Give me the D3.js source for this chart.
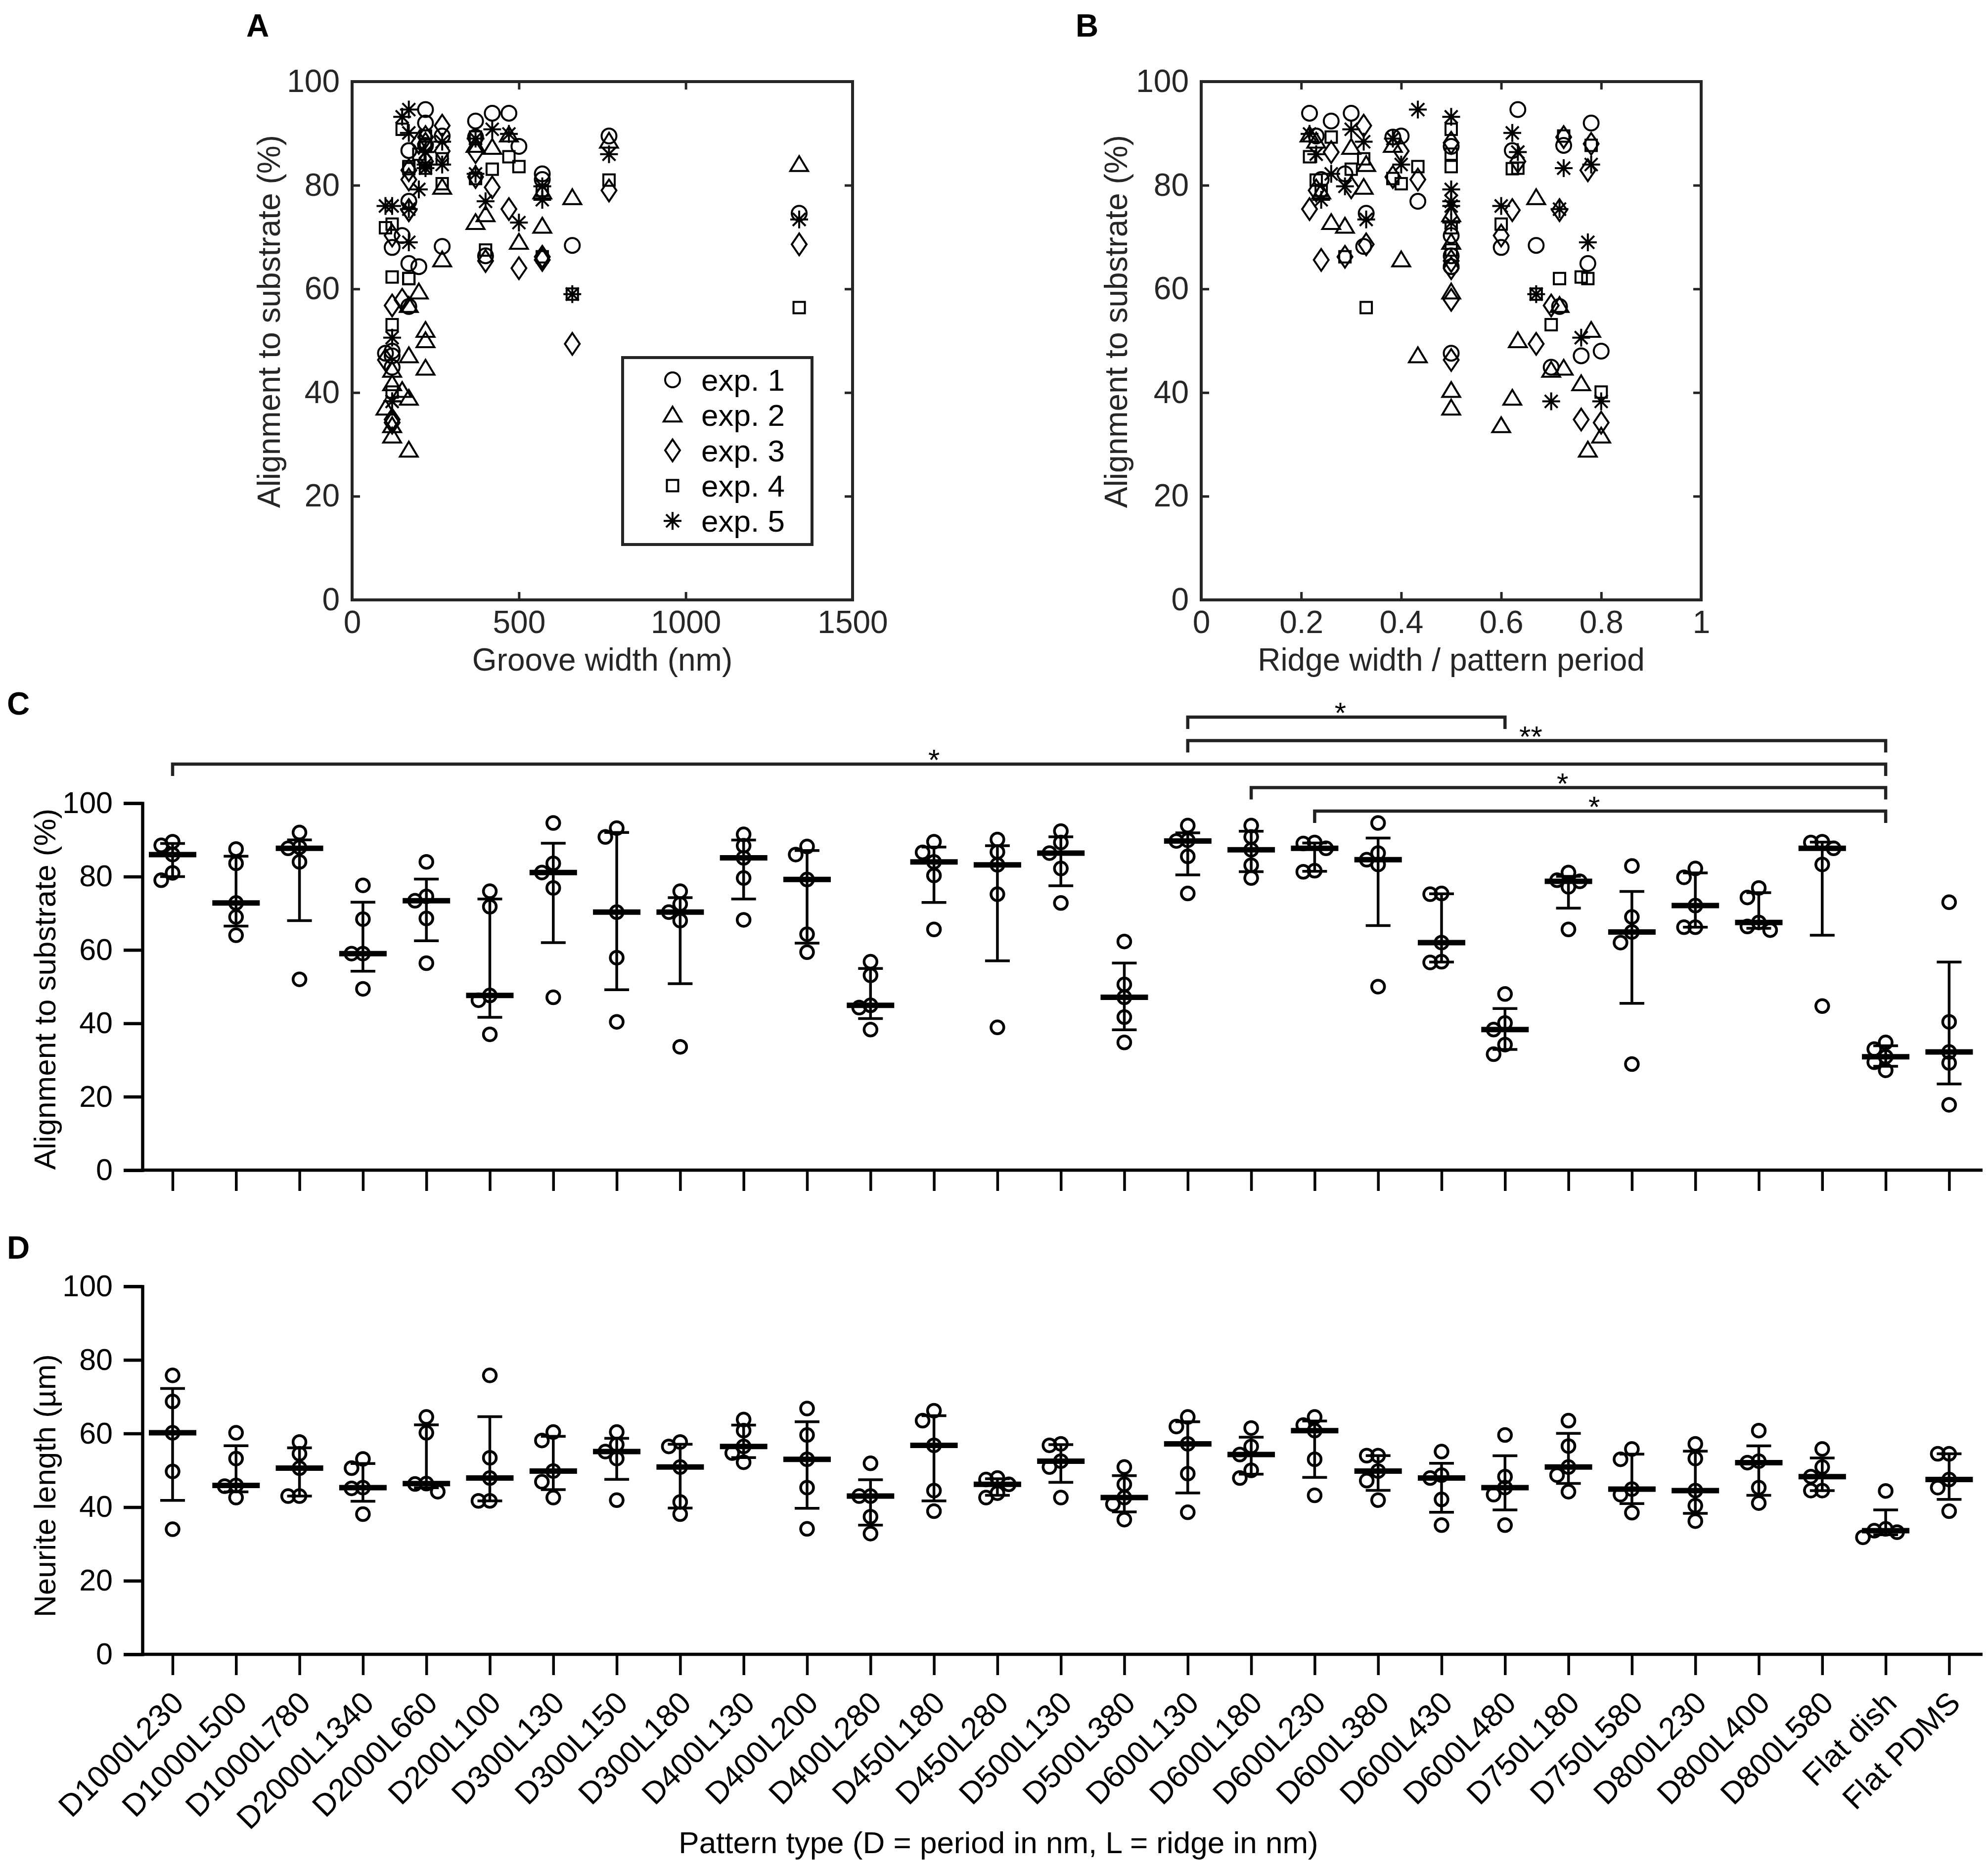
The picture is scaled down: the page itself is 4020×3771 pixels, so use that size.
<!DOCTYPE html>
<html>
<head>
<meta charset="utf-8">
<script src="https://cdn.jsdelivr.net/npm/d3@7"></script>
<style>
body { margin: 0; background: #fff; }
text { font-family: "Liberation Sans", Arial, Helvetica, sans-serif; }
</style>
</head>
<body>
<svg id="fig" width="4020" height="3771"></svg>
<script>
// pattern names: D = period (nm), L = ridge (nm)
const patterns = ["D1000L230","D1000L500","D1000L780","D2000L1340","D2000L660","D200L100","D300L130",
  "D300L150","D300L180","D400L130","D400L200","D400L280","D450L180","D450L280","D500L130","D500L380",
  "D600L130","D600L180","D600L230","D600L380","D600L430","D600L480","D750L180","D750L580","D800L230",
  "D800L400","D800L580","Flat dish","Flat PDMS"];

// alignment to substrate (%), one array per experiment
const alignExp1 = [89.5,87.5,92,68.4,74.6,47.6,76.9,70.3,68,68.2,64.3,44.9,89.5,86.7,92.4,47.1,93.9,93.9,89.3,94.6,56.6,48,81.1,64.9,82.2,66.4,87.7,34.8,73];
const alignExp2 = [88.5,69,52,77.6,84,37,47.1,40.4,33.6,79.6,59.4,44.3,65.6,38.9,72.8,41.7,89.7,87.3,87.7,50,56.8,31.6,78.7,28.9,72.1,74.3,44.7,33,40.4];
const alignExp3 = [79,64,88,49.4,68.6,46.3,81.1,57.9,70.3,91.5,88.2,56.8,86.6,75.2,86.4,34.8,75.4,79.6,81.6,84.6,75.2,34.2,65.6,82.9,66.2,65.4,89.3,30.9,32.2];
const alignExp4 = [81,83.6,87.7,59,56.4,71.8,83.6,90.8,72.5,85.1,86,53.1,80.3,83.2,89.3,62.3,85.5,83.1,81.3,83.3,62,40.1,79,62,66.2,67.5,89.5,29.4,29.2];
const alignExp5 = [86,72.8,84,59,73.4,76,94.6,93.2,76,88.4,79.2,38.3,84,90.1,82.2,50.6,89.9,90.8,89,86.4,75.4,38.3,77.2,69,79.8,76.9,83.3,27.2,17.8];

// neurite length (µm), five replicates per pattern
const neurite1 = [75.8,60.2,57.7,53.1,64.5,75.8,60.4,60.4,57.7,63.8,66.8,51.9,66.2,47.9,57.2,50.9,64.5,61.5,64.5,54,55.1,59.6,63.5,55.8,57.2,60.8,55.8,44.4,54.5];
const neurite2 = [68.7,53.2,54.5,50.6,60.2,53.4,58.1,57,56.5,60.8,59.6,43,63.5,47.5,56.8,46.2,61.9,56.5,62.3,54,48.7,48.3,56.6,53,53.2,52.5,50.9,34.1,54.5];
const neurite3 = [60.2,45.9,50.6,45.3,46.4,47.9,49.8,55.1,50.9,56.5,53,43,56.8,46.2,52.5,42.6,57.2,54.3,60.8,49.8,47.9,45.3,50.9,44.9,44.5,52.1,48.3,33.6,47.5];
const neurite4 = [49.7,45.7,43,45.1,46.3,41.7,46.9,53.2,41.4,54.7,45.3,37.4,44.5,43.8,50.9,40.8,49.1,50,53,47.2,42.1,43.4,48.7,43.4,40.4,45.3,44.5,33.2,45.3];
const neurite5 = [34,42.6,43,38.1,44.2,41.7,42.6,41.9,38.1,52.2,34.1,32.8,38.9,42.6,42.6,36.6,38.6,47.9,43.2,41.9,35.1,35.1,44.2,38.5,36.2,41.1,44.5,31.8,38.9];

const expLabels = ["exp. 1","exp. 2","exp. 3","exp. 4","exp. 5"];
const grooveTicks = [0,500,1000,1500];
const ratioTicks = [0,0.2,0.4,0.6,0.8,1];
const pctTicks = [0,20,40,60,80,100];

// significance brackets in panel C
const sigFrom  = ["D600L130","D600L130","D1000L230","D600L180","D600L230"];
const sigTo    = ["D600L480","Flat dish","Flat dish","Flat dish","Flat dish"];
const sigLabel = ["*","**","*","*","*"];
const sigAt    = [null,null,"D450L180",null,null];

const alignSeries = [alignExp1, alignExp2, alignExp3, alignExp4, alignExp5];
const neuriteSeries = [neurite1, neurite2, neurite3, neurite4, neurite5];

const svg = d3.select("#fig");
svg.append("rect").attr("width", 4020).attr("height", 3771).attr("fill", "#fff");

const axisCol = "#262626";

// marker shapes for the scatter panels
function drawMarker(g, kind) {
  g.attr("fill", "none").attr("stroke", "#000").attr("stroke-width", 4);
  if (kind === 0) g.append("circle").attr("r", 15);
  else if (kind === 1) g.append("path").attr("d", "M0,-17L18,13L-18,13Z");
  else if (kind === 2) g.append("path").attr("d", "M0,-22L15,0L0,22L-15,0Z");
  else if (kind === 3) g.append("rect").attr("x", -11.5).attr("y", -11.5).attr("width", 23).attr("height", 23);
  else g.append("path").attr("d", "M-18,0H18M0,-18V18M-13,-13L13,13M-13,13L13,-13");
}

function parsePattern(p) {
  const m = /D(\d+)L(\d+)/.exec(p);
  return m ? { period: +m[1], ridge: +m[2] } : null;
}

const scatterPts = [];
patterns.forEach((p, i) => {
  const g = parsePattern(p);
  if (!g) return;
  alignSeries.forEach((s, e) => {
    scatterPts.push({ groove: g.period - g.ridge, ratio: g.ridge / g.period, v: s[i], exp: e });
  });
});

function boxPanel(x, yScale, tickVals, xTitle, yTitleX, fmt) {
  const g = svg.append("g");
  const [x0, x1] = x.range();
  const [y0, y1] = yScale.range();
  const style = a => {
    a.select(".domain").remove();
    a.selectAll("line").attr("stroke", axisCol).attr("stroke-width", 5);
    a.selectAll("text").attr("font-size", 64).attr("fill", axisCol);
  };
  g.append("g").attr("transform", `translate(0,${y0})`)
    .call(d3.axisBottom(x).tickValues(tickVals).tickFormat(fmt).tickSizeInner(-16).tickSizeOuter(0).tickPadding(22)).call(style);
  g.append("g").attr("transform", `translate(0,${y1})`)
    .call(d3.axisTop(x).tickValues(tickVals).tickFormat("").tickSizeInner(-16).tickSizeOuter(0)).call(style);
  g.append("g").attr("transform", `translate(${x0},0)`)
    .call(d3.axisLeft(yScale).tickValues(pctTicks).tickSizeInner(-16).tickSizeOuter(0).tickPadding(25)).call(style);
  g.append("g").attr("transform", `translate(${x1},0)`)
    .call(d3.axisRight(yScale).tickValues(pctTicks).tickFormat("").tickSizeInner(-16).tickSizeOuter(0)).call(style);
  g.append("rect").attr("x", x0).attr("y", y1).attr("width", x1 - x0).attr("height", y0 - y1)
    .attr("fill", "none").attr("stroke", axisCol).attr("stroke-width", 6);
  g.append("text").attr("x", (x0 + x1) / 2).attr("y", 1356).attr("text-anchor", "middle")
    .attr("font-size", 64).attr("fill", axisCol).text(xTitle);
  g.append("text").attr("transform", `translate(${yTitleX},650) rotate(-90)`).attr("text-anchor", "middle")
    .attr("font-size", 64).attr("fill", axisCol).text("Alignment to substrate (%)");
  return g;
}

// ---------- Panel A ----------
const xA = d3.scaleLinear().domain([0, 1500]).range([712, 1724]);
const yAB = d3.scaleLinear().domain([0, 100]).range([1213, 165]);
const gA = boxPanel(xA, yAB, grooveTicks, "Groove width (nm)", 566, d3.format("d"));
gA.append("g").selectAll("g").data(scatterPts).join("g")
  .attr("transform", d => `translate(${xA(d.groove)},${yAB(d.v)})`)
  .each(function (d) { drawMarker(d3.select(this), d.exp); });

// legend
const leg = gA.append("g");
leg.append("rect").attr("x", 1259).attr("y", 723).attr("width", 383).attr("height", 378)
  .attr("fill", "#fff").attr("stroke", axisCol).attr("stroke-width", 6);
expLabels.forEach((lab, e) => {
  const cy = 768 + e * 71.3;
  drawMarker(leg.append("g").attr("transform", `translate(1360,${cy})`), e);
  leg.append("text").attr("x", 1418).attr("y", cy + 22).attr("font-size", 62).attr("fill", "#000").text(lab);
});

// ---------- Panel B ----------
const xB = d3.scaleLinear().domain([0, 1]).range([2429, 3440]);
const gB = boxPanel(xB, yAB, ratioTicks, "Ridge width / pattern period", 2279, d => d === 0 || d === 1 ? d3.format("d")(d) : d3.format(".1f")(d));
gB.append("g").selectAll("g").data(scatterPts).join("g")
  .attr("transform", d => `translate(${xB(d.ratio)},${yAB(d.v)})`)
  .each(function (d) { drawMarker(d3.select(this), d.exp); });

// ---------- Panels C and D ----------
const xCat = d3.scalePoint().domain(patterns).range([349, 349 + 28 * 128.3]);

function quantile5(vals, p) {
  const s = vals.slice().sort(d3.ascending);
  const n = s.length, h = (n + 1) * p, lo = Math.floor(h), f = h - lo;
  if (lo < 1) return s[0];
  if (lo >= n) return s[n - 1];
  return s[lo - 1] + f * (s[lo] - s[lo - 1]);
}

function swarm(vals, yScale) {
  const order = vals.map((v, i) => ({ v, i })).sort((a, b) => b.v - a.v);
  const placed = [], off = vals.map(() => 0);
  const tries = [0, -1, 1, -2, 2];
  order.forEach(p => {
    const y = yScale(p.v);
    for (const t of tries) {
      const x = t * 23;
      if (placed.every(q => Math.hypot(q.x - x, q.y - y) >= 22)) { off[p.i] = x; placed.push({ x, y }); return; }
    }
    placed.push({ x: 0, y });
  });
  return off;
}

function dotPanel(series, yScale, yTitle, yTitleCY, withLabels) {
  const g = svg.append("g");
  const [yb, yt] = yScale.range();
  g.append("g").attr("transform", "translate(288,0)")
    .call(d3.axisLeft(yScale).tickValues(pctTicks).tickSize(38).tickPadding(22))
    .call(a => {
      a.select(".domain").attr("stroke", "#000").attr("stroke-width", 6.5);
      a.selectAll(".tick line").attr("stroke", "#000").attr("stroke-width", 6.5);
      a.selectAll("text").attr("font-size", 61).attr("fill", "#000");
    });
  g.append("g").attr("transform", `translate(0,${yb})`)
    .call(d3.axisBottom(xCat).tickSize(42).tickFormat(""))
    .call(a => {
      a.select(".domain").remove();
      a.selectAll(".tick line").attr("stroke", "#000").attr("stroke-width", 5.5);
    });
  g.append("line").attr("x1", 285).attr("x2", 4009).attr("y1", yb).attr("y2", yb)
    .attr("stroke", "#000").attr("stroke-width", 6.5);
  g.append("text").attr("transform", `translate(112,${yTitleCY}) rotate(-90)`).attr("text-anchor", "middle")
    .attr("font-size", 62).attr("fill", "#000").text(yTitle);

  patterns.forEach((p, i) => {
    const vals = series.map(s => s[i]);
    const cx = xCat(p);
    const offs = swarm(vals, yScale);
    const cg = g.append("g");
    cg.selectAll("circle").data(vals).join("circle")
      .attr("cx", (d, k) => cx + offs[k]).attr("cy", d => yScale(d)).attr("r", 13)
      .attr("fill", "none").attr("stroke", "#000").attr("stroke-width", 5.5);
    const q1 = quantile5(vals, 0.25), med = quantile5(vals, 0.5), q3 = quantile5(vals, 0.75);
    const ln = (x1, x2, y1, y2, w) => cg.append("line").attr("x1", x1).attr("x2", x2).attr("y1", y1).attr("y2", y2)
      .attr("stroke", "#000").attr("stroke-width", w);
    ln(cx, cx, yScale(q1), yScale(q3), 5.5);
    ln(cx - 25, cx + 25, yScale(q1), yScale(q1), 5.5);
    ln(cx - 25, cx + 25, yScale(q3), yScale(q3), 5.5);
    ln(cx - 48, cx + 48, yScale(med), yScale(med), 11);
  });

  if (withLabels) {
    g.append("g").selectAll("text").data(patterns).join("text")
      .attr("transform", d => `translate(${xCat(d) + 26},3447) rotate(-45)`)
      .attr("text-anchor", "end").attr("font-size", 63).attr("fill", "#000").text(d => d);
  }
  return g;
}

const yC = d3.scaleLinear().domain([0, 100]).range([2366, 1624]);
const gC = dotPanel(alignSeries, yC, "Alignment to substrate (%)", 2000, false);

// significance brackets
sigFrom.forEach((f, k) => {
  const ly = 1450 + k * 47.5;
  const xa = xCat(f), xb = xCat(sigTo[k]);
  gC.append("path").attr("d", `M${xa},${ly + 24}V${ly}H${xb}V${ly + 24}`)
    .attr("fill", "none").attr("stroke", "#222").attr("stroke-width", 6.5);
  const lx = sigAt[k] ? xCat(sigAt[k]) : (xa + xb) / 2 - 12;
  gC.append("text").attr("x", lx).attr("y", ly + 12).attr("text-anchor", "middle")
    .attr("font-size", 60).attr("fill", "#000").text(sigLabel[k]);
});

const yD = d3.scaleLinear().domain([0, 100]).range([3345, 2601]);
dotPanel(neuriteSeries, yD, "Neurite length (µm)", 3004, true);

svg.append("text").attr("x", 2019).attr("y", 3747).attr("text-anchor", "middle")
  .attr("font-size", 62).attr("fill", "#000").text("Pattern type (D = period in nm, L = ridge in nm)");

// panel letters
[["A", 498, 74], ["B", 2175, 74], ["C", 14, 1445], ["D", 14, 2545]].forEach(([t, x, y]) => {
  svg.append("text").attr("x", x).attr("y", y).attr("font-size", 64).attr("font-weight", "bold")
    .attr("fill", "#000").text(t);
});
</script>
</body>
</html>
